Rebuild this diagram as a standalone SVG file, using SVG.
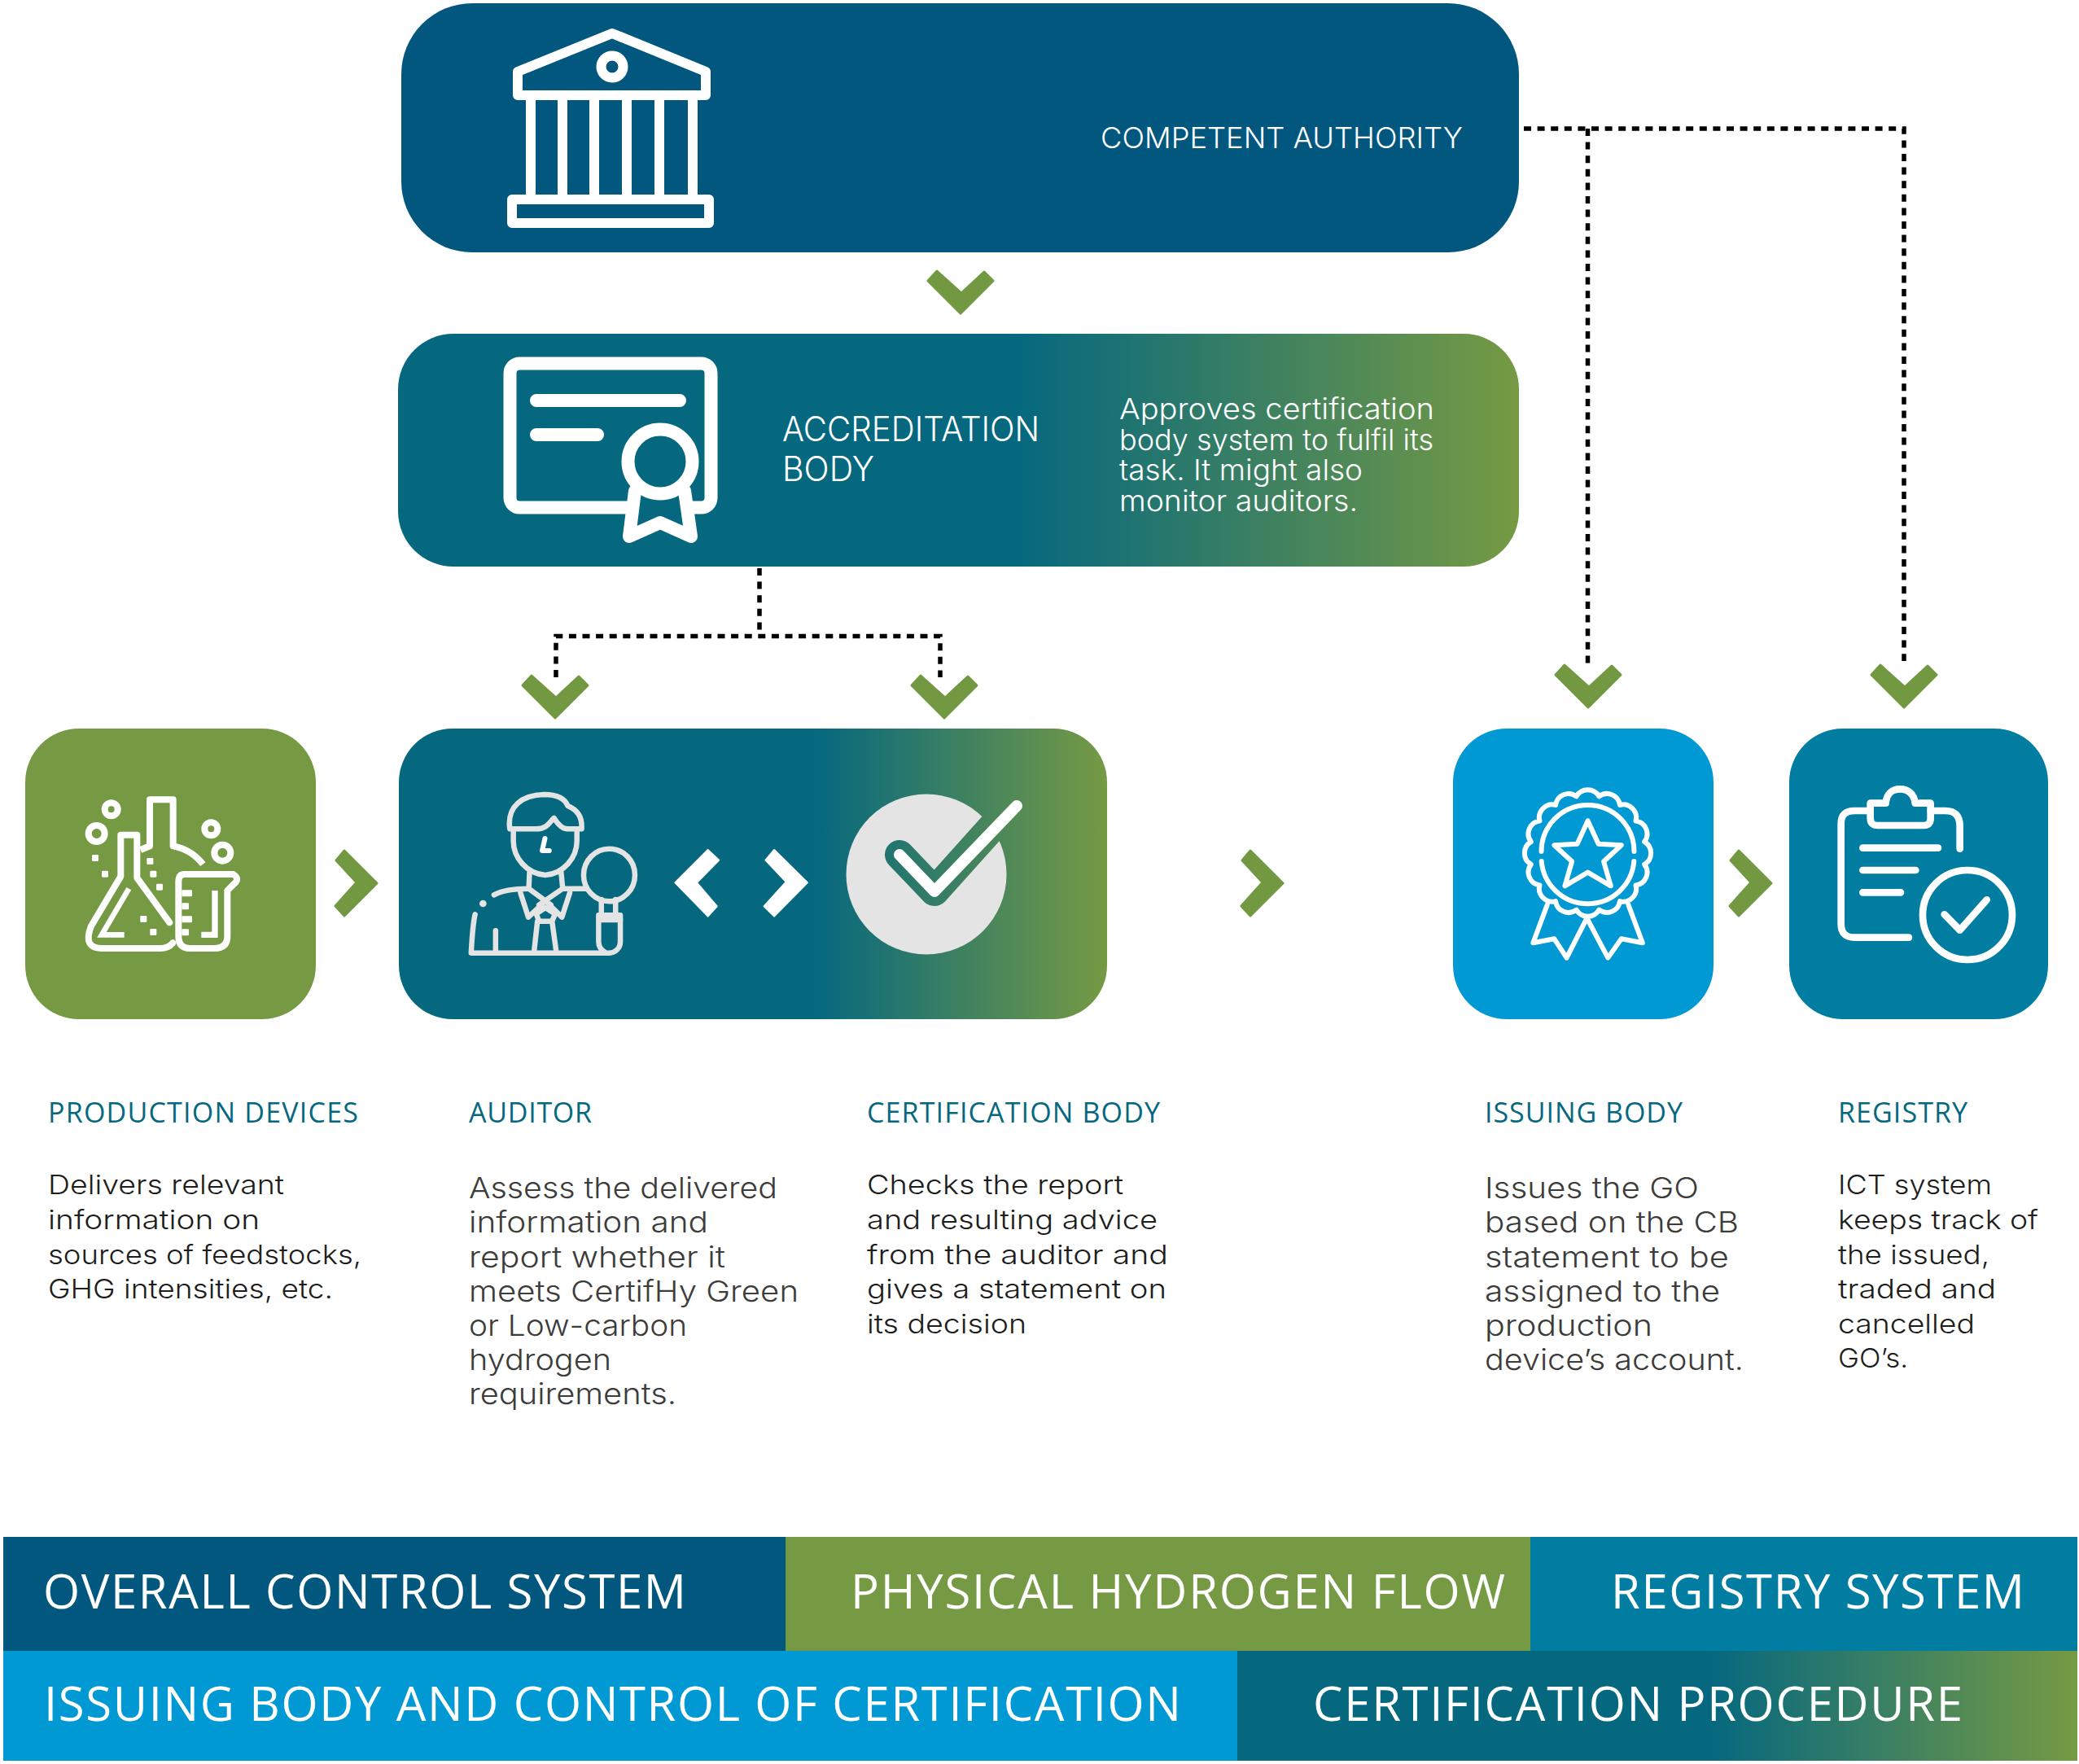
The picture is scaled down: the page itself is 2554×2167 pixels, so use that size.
<svg xmlns="http://www.w3.org/2000/svg" width="2554" height="2167" viewBox="0 0 2554 2167">
<style>
text{font-family:"Inter","Liberation Sans",sans-serif;font-weight:300}
.w{fill:#fff}
.body{font-size:33px;fill:#1d1d1b}
.body2{font-size:36px;fill:#3c3c3b}
.head{font-family:"Open Sans","Liberation Sans",sans-serif;font-weight:400;font-size:34px;fill:#05687f}
.bar{font-family:"Open Sans","Liberation Sans",sans-serif;font-weight:400;font-size:58px;fill:#fff}
.ic{fill:none;stroke:#fff;stroke-linecap:round;stroke-linejoin:round}
.ns{vector-effect:non-scaling-stroke}
.dash{fill:none;stroke:#000;stroke-width:5.5;stroke-dasharray:9 7.6}
.chev{fill:#739842;stroke:#739842;stroke-width:3;stroke-linejoin:round}
</style>
<defs>
<linearGradient id="g2" gradientUnits="userSpaceOnUse" x1="1246" y1="0" x2="1866" y2="0"><stop offset="0" stop-color="#05687f"/><stop offset="1" stop-color="#769a43"/></linearGradient>
<linearGradient id="g3" gradientUnits="userSpaceOnUse" x1="1000" y1="0" x2="1360" y2="0"><stop offset="0" stop-color="#05687f"/><stop offset="1" stop-color="#769a43"/></linearGradient>
<linearGradient id="g4" gradientUnits="userSpaceOnUse" x1="2100" y1="0" x2="2552" y2="0"><stop offset="0" stop-color="#05687f"/><stop offset="1" stop-color="#769a43"/></linearGradient>
<path id="cd" d="M-29,-53 L-40,-41 L0,-1 L40,-41 L29,-52 L1,-26 Z"/>
<path id="cr" d="M-41,-40 L-1,0 L-41,40 L-52,28 L-26,-1 L-51,-28 Z"/>
</defs>
<rect width="2554" height="2167" fill="#fff"/>

<g id="connectors">
<path class="dash" d="M933,698 V781"/>
<path class="dash" d="M683,832 V781.5 H1155 V832"/>
<path class="dash" d="M1872,158 H2339 V812"/>
<path class="dash" d="M1950.5,158 V815"/>
<g class="chev">
<use href="#cd" transform="translate(1180,386)"/>
<use href="#cd" transform="translate(682,883)"/>
<use href="#cd" transform="translate(1160,883)"/>
<use href="#cd" transform="translate(1951,870)"/>
<use href="#cd" transform="translate(2339,870)"/>
<use href="#cr" transform="translate(464,1085)"/>
<use href="#cr" transform="translate(1577,1085)"/>
<use href="#cr" transform="translate(2177,1085)"/>
</g>
</g>

<g id="competent-authority">
<rect x="493" y="4" width="1373" height="306" rx="87" fill="#02577f"/>
<g class="ic" stroke-width="12">
<path d="M636,117 V88 L752,41 L867,88 V117 Z"/>
<circle cx="752" cy="82" r="13.5"/>
<path d="M652,117 V245 M691,117 V245 M730,117 V245 M770,117 V245 M810,117 V245 M851,117 V245"/>
<rect x="629" y="245" width="242" height="29"/>
</g>
<text class="w" x="1352" y="182" font-size="36" textLength="445" lengthAdjust="spacingAndGlyphs">COMPETENT AUTHORITY</text>
</g>

<g id="accreditation-body">
<rect x="489" y="410" width="1377" height="286" rx="68" fill="url(#g2)"/>
<g class="ic" stroke-width="16">
<path d="M770,623.5 H638.5 a12,12 0 0 1 -12,-12 V458.5 a12,12 0 0 1 12,-12 H861.5 a12,12 0 0 1 12,12 V611.5 a12,12 0 0 1 -12,12 H850"/>
<path d="M659,492 H835 M659,534 H734"/>
<circle cx="811" cy="567" r="39.5"/>
<path d="M780,603 L773,659 L811,642 L849,659 L841,603"/>
</g>
<text class="w" font-size="42" x="961" y="542" textLength="316" lengthAdjust="spacingAndGlyphs">ACCREDITATION</text>
<text class="w" font-size="42" x="961" y="591" textLength="113" lengthAdjust="spacingAndGlyphs">BODY</text>
<g class="w" font-size="36">
<text x="1375" y="515" textLength="387" lengthAdjust="spacingAndGlyphs">Approves certification</text>
<text x="1375" y="553" textLength="386" lengthAdjust="spacingAndGlyphs">body system to fulfil its</text>
<text x="1375" y="590" textLength="299" lengthAdjust="spacingAndGlyphs">task. It might also</text>
<text x="1375" y="628" textLength="293" lengthAdjust="spacingAndGlyphs">monitor auditors.</text>
</g>
</g>

<g id="production-devices">
<rect x="31" y="895" width="357" height="357" rx="66" fill="#769a43"/>
<g transform="translate(60,930) scale(0.3333)">
<g class="ic" stroke-width="24" stroke-linecap="butt">
<path d="M445,610 L325,445 V287 H265 V440 L155,625 Q125,705 195,705 H410 Q440,705 457,685"/>
<path d="M295,485 L195,655 H278" stroke-width="20" style="stroke-linecap:butt;stroke-linejoin:miter"/>
<path d="M338,342 L372,328 V157 H458 V328 Q525,340 568,395" style="stroke-linecap:butt"/>
<circle cx="230" cy="193" r="24"/><circle cx="176" cy="282" r="30"/><circle cx="598" cy="265" r="24"/><circle cx="640" cy="353" r="30"/>
<path d="M500,432 H680 Q700,445 690,460 L658,492 V660 Q658,705 610,705 H520 Q478,705 478,660 V460 Q478,432 500,432 Z"/>
<path d="M562,655 H612 V492" stroke-width="22" style="stroke-linecap:butt;stroke-linejoin:miter"/>
</g>
<g fill="#fff">
<rect x="159" y="360" width="24" height="24" rx="4"/><rect x="195" y="419" width="24" height="24" rx="4"/><rect x="361" y="372" width="24" height="24" rx="4"/><rect x="373" y="419" width="24" height="24" rx="4"/><rect x="396" y="467" width="24" height="24" rx="4"/><rect x="337" y="585" width="24" height="24" rx="4"/><rect x="373" y="633" width="24" height="24" rx="4"/>
<rect x="490" y="490" width="38" height="24" rx="3"/><rect x="490" y="538" width="26" height="24" rx="3"/><rect x="490" y="586" width="38" height="24" rx="3"/><rect x="490" y="634" width="26" height="24" rx="3"/>
</g>
</g>
<text class="head" x="59" y="1379" textLength="381">PRODUCTION DEVICES</text>
<g class="body">
<text x="59" y="1467" textLength="290" lengthAdjust="spacingAndGlyphs">Delivers relevant</text>
<text x="59" y="1510" textLength="260" lengthAdjust="spacingAndGlyphs">information on</text>
<text x="59" y="1553" textLength="385" lengthAdjust="spacingAndGlyphs">sources of feedstocks,</text>
<text x="59" y="1595" textLength="350" lengthAdjust="spacingAndGlyphs">GHG intensities, etc.</text>
</g>
</g>

<g id="auditor-certification-body">
<rect x="490" y="895" width="870" height="357" rx="66" fill="url(#g3)"/>
<g transform="translate(540,940) scale(0.4848,0.3333)">
<g class="ic" style="stroke:#e4e4e4" stroke-width="6.5">
<path class="ns" d="M178,235 C170,150 210,110 265,108 C300,108 318,125 325,150 C350,165 362,195 360,235 H325 C305,235 295,205 290,195 C280,205 275,235 245,235 Z"/>
<path class="ns" d="M187,240 V280 C187,340 220,400 268,405 C315,400 348,340 348,280 V240"/>
<path class="ns" d="M228,395 L226,455 L282,515 M308,395 L312,455 L252,515"/>
<path class="ns" d="M205,470 L225,560 L262,510 M330,470 L310,560 L275,510"/>
<path class="ns" d="M268,525 L245,548 L252,575 H285 L293,548 Z M248,575 L240,680 M285,575 L295,680"/>
<path class="ns" d="M138,478 C160,460 190,455 225,455 M312,455 H370"/>
<path class="ns" d="M90,550 C85,580 82,640 80,692 H430 C445,692 458,675 458,650 V553 H403 V650 C403,665 408,680 420,690"/>
<path class="ns" d="M142,610 V685"/>
<ellipse class="ns" cx="430" cy="405" rx="65" ry="97"/>
<path class="ns" d="M410,495 V550 M446,495 V550 M405,570 H458"/>
</g>
<ellipse cx="110" cy="510" rx="9" ry="13" fill="#e4e4e4"/>
<path class="ic ns" stroke-width="6" d="M267,270 L260,315 H278"/>
<path fill="#fff" stroke="#fff" class="ns" stroke-width="2" stroke-linejoin="round" d="M680,312 L708,350 L652,433 L703,520 L680,557 L597,433 Z M848,312 L932,433 L848,557 L822,520 L878,430 L826,350 Z"/>
</g>
<circle cx="1138" cy="1074" r="98.5" fill="#e4e4e4"/>
<path d="M1105,1050 L1148,1095 L1262,968" fill="none" stroke="url(#g3)" stroke-width="36" stroke-linecap="round" stroke-linejoin="round"/>
<path class="ic" stroke-width="14" d="M1105,1050 L1148,1095 L1249,990"/>
<text class="head" x="576" y="1379" textLength="151">AUDITOR</text>
<g class="body2">
<text x="576" y="1472" textLength="379" lengthAdjust="spacingAndGlyphs">Assess the delivered</text>
<text x="576" y="1514" textLength="294" lengthAdjust="spacingAndGlyphs">information and</text>
<text x="576" y="1557" textLength="315" lengthAdjust="spacingAndGlyphs">report whether it</text>
<text x="576" y="1599" textLength="405" lengthAdjust="spacingAndGlyphs">meets CertifHy Green</text>
<text x="576" y="1641" textLength="268" lengthAdjust="spacingAndGlyphs">or Low-carbon</text>
<text x="576" y="1683" textLength="175" lengthAdjust="spacingAndGlyphs">hydrogen</text>
<text x="576" y="1725" textLength="255" lengthAdjust="spacingAndGlyphs">requirements.</text>
</g>
<text class="head" x="1065" y="1379" textLength="360">CERTIFICATION BODY</text>
<g class="body">
<text x="1065" y="1467" textLength="315" lengthAdjust="spacingAndGlyphs">Checks the report</text>
<text x="1065" y="1510" textLength="357" lengthAdjust="spacingAndGlyphs">and resulting advice</text>
<text x="1065" y="1553" textLength="370" lengthAdjust="spacingAndGlyphs">from the auditor and</text>
<text x="1065" y="1595" textLength="368" lengthAdjust="spacingAndGlyphs">gives a statement on</text>
<text x="1065" y="1638" textLength="196" lengthAdjust="spacingAndGlyphs">its decision</text>
</g>
</g>

<g id="issuing-body">
<rect x="1785" y="895" width="320" height="357" rx="66" fill="#0099d3"/>
<g class="ic" stroke-width="6">
<path transform="translate(1950.5,1048) rotate(11.25)" d="M71,0 A16,16 0 0 1 65.6,27.2 A16,16 0 0 1 50.2,50.2 A16,16 0 0 1 27.2,65.6 A16,16 0 0 1 0,71 A16,16 0 0 1 -27.2,65.6 A16,16 0 0 1 -50.2,50.2 A16,16 0 0 1 -65.6,27.2 A16,16 0 0 1 -71,0 A16,16 0 0 1 -65.6,-27.2 A16,16 0 0 1 -50.2,-50.2 A16,16 0 0 1 -27.2,-65.6 A16,16 0 0 1 0,-71 A16,16 0 0 1 27.2,-65.6 A16,16 0 0 1 50.2,-50.2 A16,16 0 0 1 65.6,-27.2 A16,16 0 0 1 71,0 Z"/>
<path d="M1893.5,1046 A57,57 0 0 1 2007.5,1046 M1893.7,1058 A57,57 0 0 0 2007.3,1058"/>
<g transform="translate(1840,940) scale(0.4337,0.3333)">
<path class="ns" d="M255,205 L285,290 L350,295 L300,355 L320,445 L255,395 L190,445 L210,355 L160,295 L225,290 Z"/>
<path class="ns" d="M140,515 L100,655 L160,640 L195,710 L250,570 M370,515 L410,655 L350,640 L312,710 L255,570"/>
</g>
</g>
<text class="head" x="1824" y="1379" textLength="243">ISSUING BODY</text>
<g class="body2">
<text x="1824" y="1472" textLength="263" lengthAdjust="spacingAndGlyphs">Issues the GO</text>
<text x="1824" y="1514" textLength="312" lengthAdjust="spacingAndGlyphs">based on the CB</text>
<text x="1824" y="1557" textLength="300" lengthAdjust="spacingAndGlyphs">statement to be</text>
<text x="1824" y="1599" textLength="289" lengthAdjust="spacingAndGlyphs">assigned to the</text>
<text x="1824" y="1641" textLength="206" lengthAdjust="spacingAndGlyphs">production</text>
<text x="1824" y="1683" textLength="318" lengthAdjust="spacingAndGlyphs">device’s account.</text>
</g>
</g>

<g id="registry">
<rect x="2198" y="895" width="318" height="357" rx="66" fill="#007da1"/>
<g transform="translate(2200,940) scale(0.3333)">
<g class="ic" stroke-width="26">
<path d="M435,635 H235 Q185,635 185,585 V215 Q185,168 235,168 H290 M515,168 H570 Q623,168 623,225 V308"/>
<path d="M293,140 H350 C352,105 375,88 403,88 C430,88 455,105 458,140 H515 V195 Q515,222 490,222 H320 Q293,222 293,195 Z"/>
<path d="M265,305 H543 M265,387 H460 M265,469 H405"/>
<circle cx="651" cy="552" r="165"/>
<path d="M566,550 L623,608 L722,496"/>
</g>
</g>
<text class="head" x="2258" y="1379" textLength="159">REGISTRY</text>
<g class="body">
<text x="2258" y="1467" textLength="189" lengthAdjust="spacingAndGlyphs">ICT system</text>
<text x="2258" y="1510" textLength="246" lengthAdjust="spacingAndGlyphs">keeps track of</text>
<text x="2258" y="1553" textLength="186" lengthAdjust="spacingAndGlyphs">the issued,</text>
<text x="2258" y="1595" textLength="194" lengthAdjust="spacingAndGlyphs">traded and</text>
<text x="2258" y="1638" textLength="168" lengthAdjust="spacingAndGlyphs">cancelled</text>
<text x="2258" y="1680" textLength="86" lengthAdjust="spacingAndGlyphs">GO’s.</text>
</g>
</g>

<g id="legend-overall-control"><rect x="4" y="1888" width="961" height="140" fill="#02577f"/><text class="bar" x="53" y="1976" textLength="790">OVERALL CONTROL SYSTEM</text></g>
<g id="legend-hydrogen-flow"><rect x="965" y="1888" width="915" height="140" fill="#769a43"/><text class="bar" x="1045" y="1976" textLength="804">PHYSICAL HYDROGEN FLOW</text></g>
<g id="legend-registry"><rect x="1880" y="1888" width="672" height="140" fill="#007da1"/><text class="bar" x="1979" y="1976" textLength="508">REGISTRY SYSTEM</text></g>
<g id="legend-issuing"><rect x="4" y="2028" width="1516" height="135" fill="#0099d3"/><text class="bar" x="54" y="2114" textLength="1397">ISSUING BODY AND CONTROL OF CERTIFICATION</text></g>
<g id="legend-certification"><rect x="1520" y="2028" width="1032" height="135" fill="url(#g4)"/><text class="bar" x="1613" y="2114" textLength="798">CERTIFICATION PROCEDURE</text></g>
</svg>
